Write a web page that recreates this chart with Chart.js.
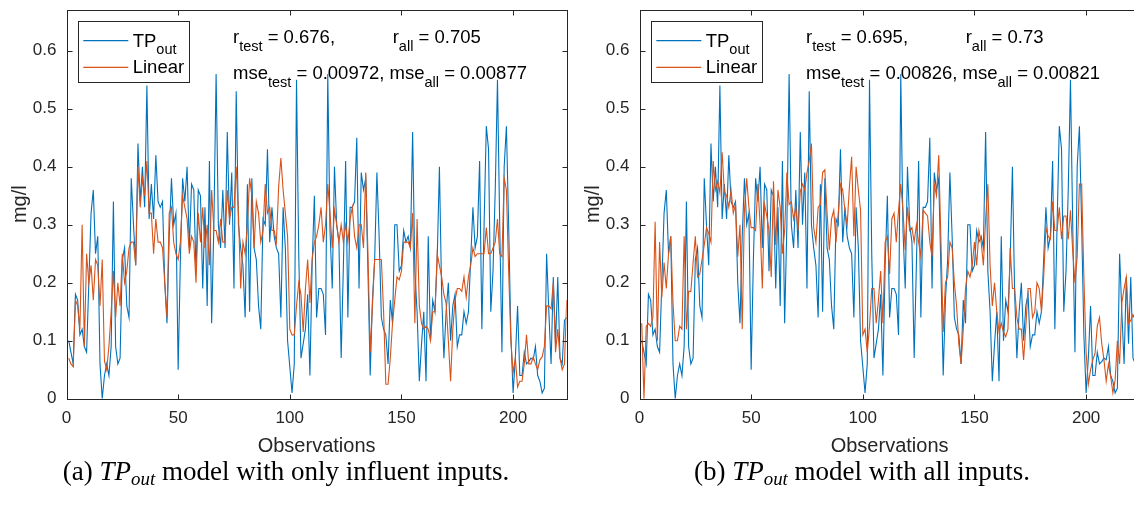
<!DOCTYPE html>
<html>
<head>
<meta charset="utf-8">
<script src="https://cdn.jsdelivr.net/npm/chart.js@4.4.1/dist/chart.umd.min.js"></script>
<style>
html,body{margin:0;padding:0;background:#fff;width:1134px;height:511px;overflow:hidden;}
#wrap{position:relative;width:1134px;height:511px;overflow:hidden;background:#fff;}
canvas{position:absolute;top:0;}
#cL{left:0px;}
#cR{left:573px;}
.cap{position:absolute;top:456px;font-family:"Liberation Serif","Times New Roman",serif;font-size:27px;line-height:30px;color:#000;white-space:nowrap;transform:translateX(-50%);}
.cap sub{font-size:0.7em;vertical-align:-0.28em;line-height:0;}
</style>
</head>
<body>
<div id="wrap">
  <canvas id="cL" width="580" height="470"></canvas>
  <canvas id="cR" width="580" height="470"></canvas>
  <div class="cap" id="capL" style="left:286px;">(a) <i>TP<sub>out</sub></i> model with only influent inputs.</div>
  <div class="cap" id="capR" style="left:862px;">(b) <i>TP<sub>out</sub></i> model with all inputs.</div>
</div>
<script>
// ---------------- data ----------------
const tpOut = [
0.10,0.08,0.06,0.18,0.17,0.11,0.12,0.09,0.08,0.20,
0.32,0.36,0.25,0.28,0.06,0.00,0.04,0.06,0.04,0.09,
0.34,0.09,0.06,0.07,0.24,0.26,0.16,0.14,0.38,0.30,
0.23,0.44,0.34,0.40,0.33,0.54,0.31,0.37,0.31,0.42,
0.34,0.33,0.34,0.20,0.13,0.28,0.38,0.30,0.32,0.05,
0.24,0.38,0.34,0.40,0.26,0.37,0.36,0.22,0.36,0.35,
0.19,0.33,0.16,0.41,0.13,0.30,0.56,0.30,0.26,0.36,
0.26,0.46,0.30,0.39,0.19,0.53,0.30,0.26,0.23,0.14,
0.37,0.15,0.38,0.26,0.24,0.16,0.12,0.31,0.30,0.43,
0.27,0.33,0.28,0.26,0.25,0.14,0.33,0.26,0.10,0.055,
0.01,0.06,0.55,0.25,0.07,0.095,0.12,0.18,0.04,0.23,
0.35,0.14,0.19,0.19,0.18,0.11,0.56,0.29,0.19,0.40,
0.30,0.27,0.07,0.23,0.41,0.14,0.33,0.33,0.34,0.45,
0.19,0.39,0.36,0.38,0.22,0.04,0.17,0.24,0.39,0.28,
0.14,0.12,0.11,0.06,0.17,0.13,0.30,0.30,0.22,0.23,
0.29,0.27,0.28,0.26,0.46,0.22,0.15,0.03,0.095,0.15,
0.03,0.28,0.10,0.17,0.15,0.24,0.40,0.18,0.07,0.15,
0.20,0.10,0.16,0.18,0.09,0.11,0.11,0.15,0.13,0.15,
0.24,0.33,0.26,0.28,0.41,0.12,0.30,0.47,0.43,0.15,
0.22,0.36,0.55,0.30,0.08,0.40,0.47,0.30,0.11,0.01,
0.07,0.16,0.04,0.04,0.08,0.06,0.064,0.07,0.067,0.09,
0.04,0.03,0.01,0.018,0.25,0.15,0.06,0.21,0.095,0.21,
0.07,0.06,0.135,0.14
];
const linearInfluent = [
0.07,0.06,0.055,0.17,0.16,0.12,0.30,0.09,0.25,0.20,
0.23,0.17,0.24,0.23,0.16,0.24,0.065,0.05,0.09,0.15,
0.22,0.14,0.20,0.16,0.25,0.20,0.22,0.26,0.27,0.27,
0.23,0.40,0.33,0.38,0.35,0.41,0.32,0.32,0.25,0.31,
0.27,0.27,0.26,0.20,0.14,0.32,0.33,0.27,0.25,0.24,
0.27,0.35,0.33,0.31,0.25,0.28,0.27,0.20,0.32,0.27,
0.33,0.26,0.30,0.23,0.36,0.29,0.29,0.27,0.31,0.27,
0.27,0.36,0.31,0.33,0.33,0.40,0.32,0.19,0.27,0.25,
0.30,0.38,0.35,0.26,0.34,0.32,0.27,0.29,0.37,0.32,
0.33,0.29,0.29,0.27,0.365,0.415,0.36,0.32,0.28,0.12,
0.11,0.11,0.16,0.20,0.18,0.115,0.19,0.24,0.165,0.24,
0.27,0.28,0.30,0.33,0.27,0.30,0.37,0.32,0.26,0.325,
0.30,0.27,0.30,0.27,0.30,0.27,0.31,0.33,0.28,0.26,
0.30,0.30,0.26,0.39,0.25,0.08,0.16,0.24,0.24,0.24,
0.24,0.15,0.025,0.025,0.07,0.13,0.17,0.21,0.205,0.22,
0.27,0.27,0.27,0.26,0.32,0.13,0.31,0.16,0.13,0.12,
0.125,0.12,0.10,0.15,0.15,0.25,0.23,0.21,0.18,0.165,
0.10,0.03,0.12,0.17,0.19,0.19,0.185,0.21,0.175,0.21,
0.23,0.26,0.245,0.25,0.25,0.25,0.25,0.295,0.25,0.25,
0.26,0.27,0.31,0.25,0.245,0.38,0.36,0.22,0.10,0.045,
0.07,0.02,0.03,0.03,0.06,0.11,0.06,0.06,0.072,0.06,
0.05,0.067,0.072,0.09,0.16,0.16,0.155,0.20,0.08,0.12,
0.07,0.05,0.06,0.17
];
const linearAll = [
0.13,0.00,0.125,0.13,0.125,0.14,0.305,0.10,0.27,0.175,
0.235,0.19,0.25,0.28,0.165,0.10,0.10,0.125,0.12,0.28,
0.12,0.185,0.185,0.235,0.28,0.21,0.215,0.24,0.265,0.295,
0.285,0.27,0.41,0.36,0.375,0.355,0.425,0.357,0.35,0.33,
0.36,0.32,0.335,0.245,0.30,0.12,0.325,0.38,0.33,0.295,
0.295,0.29,0.37,0.30,0.19,0.335,0.315,0.29,0.21,0.375,
0.265,0.36,0.33,0.25,0.29,0.39,0.335,0.34,0.31,0.33,
0.29,0.357,0.37,0.36,0.39,0.41,0.44,0.295,0.27,0.33,
0.335,0.39,0.395,0.32,0.256,0.31,0.325,0.27,0.32,0.37,
0.36,0.325,0.30,0.365,0.417,0.28,0.40,0.36,0.325,0.11,
0.12,0.08,0.125,0.19,0.19,0.13,0.17,0.22,0.13,0.27,
0.28,0.215,0.31,0.32,0.27,0.325,0.37,0.325,0.256,0.33,
0.29,0.295,0.27,0.30,0.27,0.245,0.325,0.32,0.315,0.27,
0.245,0.37,0.35,0.42,0.27,0.115,0.20,0.21,0.27,0.26,
0.20,0.16,0.095,0.06,0.12,0.19,0.22,0.21,0.23,0.27,
0.23,0.29,0.27,0.23,0.31,0.37,0.23,0.16,0.20,0.15,
0.115,0.13,0.115,0.107,0.12,0.26,0.19,0.19,0.14,0.12,
0.12,0.067,0.124,0.19,0.19,0.14,0.15,0.20,0.19,0.15,
0.21,0.295,0.28,0.275,0.34,0.29,0.29,0.33,0.275,0.315,
0.315,0.275,0.325,0.255,0.20,0.245,0.37,0.37,0.21,0.08,
0.025,0.05,0.067,0.078,0.125,0.14,0.095,0.067,0.03,0.06,
0.038,0.01,0.032,0.10,0.06,0.165,0.19,0.21,0.13,0.135,
0.145,0.135,0.12,0.14
];
const observations = tpOut.map((_, i) => i + 1);
const xTicks = [0, 50, 100, 150, 200];
const yTicks = [0, 0.1, 0.2, 0.3, 0.4, 0.5, 0.6];
const statsInfluent = {rTest: '0.676', rAll: '0.705', mseTest: '0.00972', mseAll: '0.00877'};
const statsAll = {rTest: '0.695', rAll: '0.73', mseTest: '0.00826', mseAll: '0.00821'};

// ---------------- styles ----------------
const BLUE = '#0072BD', ORANGE = '#D95319', AX = '#262626';
const FONT = '"Liberation Sans", Arial, Helvetica, sans-serif';
const TXT = 18.5, SUB = 14.5;

function drawRich(ctx, x, y, parts) {
  ctx.textAlign = 'left';
  ctx.textBaseline = 'alphabetic';
  for (const p of parts) {
    ctx.font = (p.sub ? SUB : TXT) + 'px ' + FONT;
    ctx.fillText(p.t, x, p.sub ? y + 7.5 : y);
    x += ctx.measureText(p.t).width;
  }
  return x;
}

function framePlugin(stats) {
  return {
    id: 'frame',
    afterDraw(chart) {
      const {ctx, chartArea: a, scales: {x, y}} = chart;
      ctx.save();
      ctx.strokeStyle = AX;
      ctx.lineWidth = 1;
      const L = Math.round(a.left) + 0.5, R = Math.round(a.right) + 0.5;
      const T = Math.round(a.top) + 0.5, B = Math.round(a.bottom) + 0.5;
      ctx.strokeRect(L, T, R - L, B - T);
      ctx.beginPath();
      x.ticks.forEach(t => {
        const px = Math.round(x.getPixelForValue(t.value)) + 0.5;
        ctx.moveTo(px, B); ctx.lineTo(px, B - 5);
        ctx.moveTo(px, T); ctx.lineTo(px, T + 5);
      });
      y.ticks.forEach(t => {
        const py = Math.round(y.getPixelForValue(t.value)) + 0.5;
        ctx.moveTo(L, py); ctx.lineTo(L + 5, py);
        ctx.moveTo(R, py); ctx.lineTo(R - 5, py);
      });
      ctx.stroke();

      // legend
      const lx = Math.round(a.left + 11.8) + 0.5, ly = 21.5, lw = 111, lh = 61;
      ctx.fillStyle = '#fff';
      ctx.fillRect(lx, ly, lw, lh);
      ctx.strokeStyle = AX;
      ctx.strokeRect(lx, ly, lw, lh);
      ctx.lineWidth = 1.2;
      ctx.strokeStyle = BLUE;
      ctx.beginPath(); ctx.moveTo(a.left + 16.8, 40.7); ctx.lineTo(a.left + 61.8, 40.7); ctx.stroke();
      ctx.strokeStyle = ORANGE;
      ctx.beginPath(); ctx.moveTo(a.left + 16.8, 67.3); ctx.lineTo(a.left + 61.8, 67.3); ctx.stroke();
      ctx.fillStyle = '#000';
      drawRich(ctx, a.left + 66.2, 46.7, [{t: 'TP'}, {t: 'out', sub: true}]);
      drawRich(ctx, a.left + 66.2, 73.3, [{t: 'Linear'}]);

      // statistics
      drawRich(ctx, a.left + 166.5, 43, [{t: 'r'}, {t: 'test', sub: true}, {t: ' = ' + stats.rTest + ','}]);
      drawRich(ctx, a.left + 326.2, 43, [{t: 'r'}, {t: 'all', sub: true}, {t: ' = ' + stats.rAll}]);
      drawRich(ctx, a.left + 166.5, 79, [{t: 'mse'}, {t: 'test', sub: true}, {t: ' = ' + stats.mseTest + ', mse'}, {t: 'all', sub: true}, {t: ' = ' + stats.mseAll}]);
      ctx.restore();
    }
  };
}

function makeChart(id, linear, stats) {
  return new Chart(document.getElementById(id), {
    type: 'line',
    data: {
      datasets: [
        {label: 'Linear', data: observations.map((o, i) => ({x: o, y: linear[i]})),
         borderColor: ORANGE, borderWidth: 1.1, pointRadius: 0, tension: 0, fill: false, order: 0},
        {label: 'TP_out', data: observations.map((o, i) => ({x: o, y: tpOut[i]})),
         borderColor: BLUE, borderWidth: 1.1, pointRadius: 0, tension: 0, fill: false, order: 1}
      ]
    },
    options: {
      responsive: false, animation: false, devicePixelRatio: 1,
      events: [],
      layout: {padding: {left: 0, right: 13.3, top: 9.6, bottom: 12}},
      plugins: {legend: {display: false}, tooltip: {enabled: false}},
      scales: {
        x: {
          type: 'linear', min: 0, max: 224,
          grid: {display: false, drawTicks: false}, border: {display: false},
          afterBuildTicks: s => { s.ticks = xTicks.map(v => ({value: v})); },
          ticks: {padding: 9, color: AX, font: {family: FONT, size: 17}, maxRotation: 0, autoSkip: false,
                  callback: v => String(v)},
          title: {display: true, text: 'Observations', color: AX, font: {family: FONT, size: 20}, padding: {top: 0, bottom: 0}},
          afterFit: s => { s.height = 59.3; s.paddingLeft = 0; s.paddingRight = 0; }
        },
        y: {
          type: 'linear', min: 0, max: 0.671,
          grid: {display: false, drawTicks: false}, border: {display: false},
          afterBuildTicks: s => { s.ticks = yTicks.map(v => ({value: v})); },
          ticks: {padding: 10, color: AX, font: {family: FONT, size: 17}, autoSkip: false,
                  callback: v => (v === 0 ? '0' : Number(v).toFixed(1))},
          title: {display: true, text: 'mg/l', color: AX, font: {family: FONT, size: 20}, padding: {top: 8, bottom: 0}},
          afterFit: s => { s.width = 66.5; s.paddingTop = 0; s.paddingBottom = 0; }
        }
      }
    },
    plugins: [framePlugin(stats)]
  });
}

makeChart('cL', linearInfluent, statsInfluent);
makeChart('cR', linearAll, statsAll);
</script>
</body>
</html>
